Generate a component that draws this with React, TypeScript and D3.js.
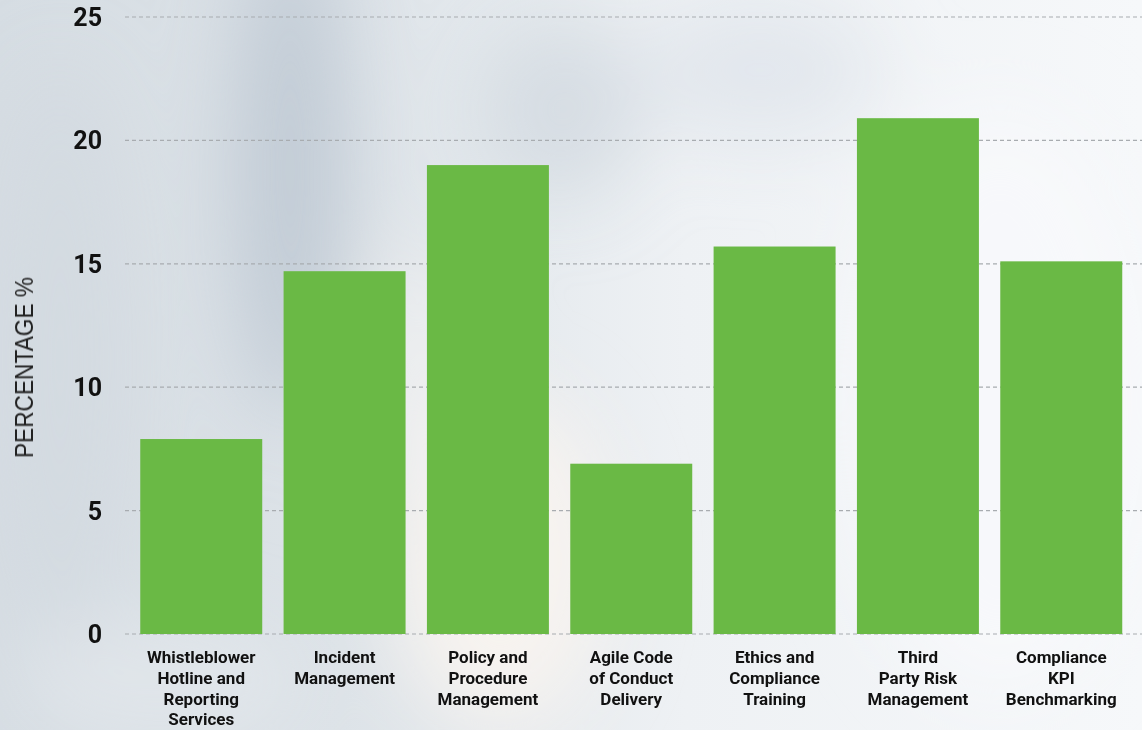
import React from "react";
import * as d3 from "d3";

const categories: string[][] = [
  ["Whistleblower", "Hotline and", "Reporting", "Services"],
  ["Incident", "Management"],
  ["Policy and", "Procedure", "Management"],
  ["Agile Code", "of Conduct", "Delivery"],
  ["Ethics and", "Compliance", "Training"],
  ["Third", "Party Risk", "Management"],
  ["Compliance", "KPI", "Benchmarking"],
];
const values: number[] = [7.9, 14.7, 19.0, 6.9, 15.7, 20.9, 15.1];
const yTicks: number[] = [0, 5, 10, 15, 20, 25];
const yTitle = "PERCENTAGE %";

const W = 1142;
const H = 730;
const BAR = "#6ab945";

export default function App() {
  const keys = categories.map((c) => c.join(" "));
  const x = d3
    .scaleBand<string>()
    .domain(keys)
    .range([129.5, 1133])
    .paddingInner(0.149)
    .paddingOuter(0.075);
  const y = d3.scaleLinear().domain([0, 25]).range([634, 17]);

  return (
    <svg
      width={W}
      height={H}
      style={{ position: "absolute", left: 0, top: 0, display: "block" }}
    >
      <defs>
        <linearGradient id="bgBase" x1="0" y1="0" x2="1" y2="0">
          <stop offset="0" stopColor="#d6dde3" />
          <stop offset="0.3" stopColor="#dde3e8" />
          <stop offset="0.6" stopColor="#eef1f4" />
          <stop offset="1" stopColor="#f6f8fa" />
        </linearGradient>
        <filter id="soft" x="-50%" y="-50%" width="200%" height="200%">
          <feGaussianBlur stdDeviation="40" />
        </filter>
      </defs>
      {/* blurred backdrop */}
      <rect x={0} y={0} width={W} height={H} fill="url(#bgBase)" />
      <g filter="url(#soft)">
        <ellipse cx={290} cy={170} rx={55} ry={250} fill="#bcc7d1" opacity={0.85} />
        <ellipse cx={60} cy={360} rx={70} ry={300} fill="#d2d9e0" opacity={0.7} />
        <ellipse cx={560} cy={110} rx={80} ry={90} fill="#c9d2da" opacity={0.6} />
        <ellipse cx={500} cy={560} rx={110} ry={170} fill="#f8f4f0" opacity={0.9} />
        <ellipse cx={420} cy={380} rx={60} ry={130} fill="#f2f2f2" opacity={0.7} />
        <ellipse cx={760} cy={70} rx={120} ry={70} fill="#dde3e9" opacity={0.7} />
        <ellipse cx={1000} cy={400} rx={160} ry={300} fill="#f7f9fb" opacity={0.8} />
        <ellipse cx={160} cy={680} rx={140} ry={60} fill="#e4e8ec" opacity={0.7} />
      </g>

      {/* grid */}
      {yTicks.map((t) => (
        <line
          key={t}
          x1={125}
          x2={W}
          y1={y(t)}
          y2={y(t)}
          stroke="#a8acb0"
          strokeWidth={1.2}
          strokeDasharray="4 3"
        />
      ))}

      {/* bars */}
      {values.map((v, i) => (
        <rect
          key={keys[i]}
          x={x(keys[i])}
          y={y(v)}
          width={x.bandwidth()}
          height={y(0) - y(v)}
          fill={BAR}
        />
      ))}

      {/* y tick labels */}
      {yTicks.map((t) => (
        <text
          key={t}
          x={102}
          y={y(t)}
          dy="0.36em"
          textAnchor="end"
          fontFamily="Roboto, sans-serif"
          fontWeight={700}
          fontSize={25}
          fill="#111"
        >
          {t}
        </text>
      ))}

      {/* category labels */}
      {categories.map((lines, i) => (
        <text
          key={keys[i]}
          textAnchor="middle"
          fontFamily="Roboto, sans-serif"
          fontWeight={700}
          fontSize={17}
          fill="#111"
        >
          {lines.map((ln, j) => (
            <tspan
              key={j}
              x={(x(keys[i]) as number) + x.bandwidth() / 2}
              y={663 + j * 20.8}
            >
              {ln}
            </tspan>
          ))}
        </text>
      ))}

      {/* axis title */}
      <text
        transform={`translate(33, ${367.5}) rotate(-90)`}
        textAnchor="middle"
        fontFamily="'Liberation Sans', Arial, sans-serif"
        fontSize={25}
        textLength={181}
        lengthAdjust="spacingAndGlyphs"
        fill="#222"
      >
        {yTitle}
      </text>
    </svg>
  );
}
